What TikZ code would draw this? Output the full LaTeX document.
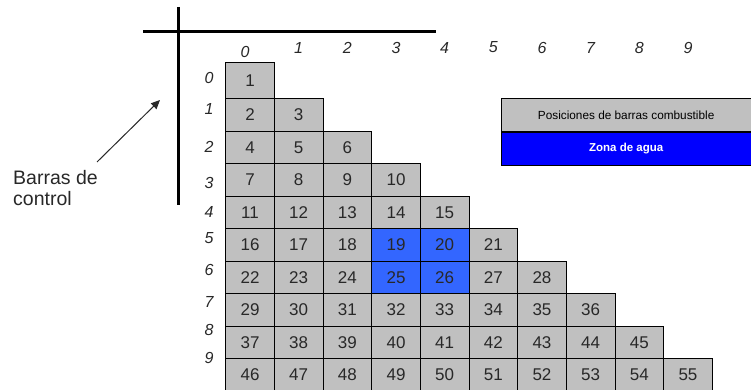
\documentclass[tikz,border=0pt]{standalone}
\usepackage{fontspec}
\setmainfont{Liberation Sans}
\usetikzlibrary{arrows.meta}
\definecolor{cellgray}{RGB}{192,192,192}
\definecolor{cellblue}{RGB}{51,102,255}
\definecolor{legblue}{RGB}{0,0,255}
\definecolor{txt}{RGB}{40,40,40}
\tikzset{
  cellbox/.style={draw=black, line width=0.8pt, inner sep=0pt, minimum width=48.66pt, text=txt, font=\fontsize{17}{19}\selectfont},
  axislab/.style={font=\fontsize{16}{18}\selectfont\itshape, text=txt, inner sep=0pt},
  axisline/.style={line width=3pt, black},
  legbox/.style={draw=black, line width=0.8pt, inner sep=0pt, minimum width=249.5pt, minimum height=32.7pt, anchor=north west},
}
\begin{document}
\begin{tikzpicture}[x=1pt,y=-1pt]
\useasboundingbox (0,0) rectangle (751,390);
% cells
\foreach \r in {0,...,9}{
  \foreach \c in {0,...,\r}{
    \pgfmathtruncatemacro\n{\r*(\r+1)/2+\c+1}
    \ifnum\r=0 \def\ytop{62}\else\pgfmathsetmacro\ytop{98.5+32.5*(\r-1)}\fi
    \ifnum\r=9 \def\ybot{391}\else\pgfmathsetmacro\ybot{98.5+32.5*\r}\fi
    \pgfmathsetmacro\h{\ybot-\ytop}
    \pgfmathsetmacro\ym{(\ybot+\ytop)/2}
    \pgfmathsetmacro\xm{225.7+48.66*\c+24.33}
    \def\fc{cellgray}
    \ifnum\r>4 \ifnum\r<7 \ifnum\c>2 \ifnum\c<5 \def\fc{cellblue}\fi\fi\fi\fi
    \node[cellbox, fill=\fc, minimum height=\h pt] (c\r-\c) at (\xm,\ym) {\raisebox{-1.5pt}{\n}};
  }
}
% axes
\coordinate (hl) at (143,31.7);
\coordinate (hr) at (436,31.7);
\coordinate (vt) at (178,7);
\coordinate (vb) at (178,205);
\draw[axisline] (hl) -- (hr);
\draw[axisline] (vt) -- (vb);
% column labels
\node[axislab] (col0) at (245,52) {0};
\foreach \c in {1,...,9}{
  \pgfmathsetmacro\xm{225.7+48.66*\c+24.33}
  \node[axislab] (col\c) at (\xm,47.5) {\c};
}
% row labels
\foreach \r/\y in {0/78,1/109,2/147,3/183,4/212,5/238,6/270,7/302,8/330,9/358}{
  \node[axislab] (row\r) at (209,\y) {\r};
}
% Barras de control
\node[anchor=north west, align=left, inner sep=0pt, text=txt, font=\fontsize{19.5}{21}\selectfont] (barras) at (13,170) {Barras de\\control};
\coordinate (arrs) at (97,162);
\coordinate (arre) at (160,100);
\draw[line width=1pt, draw=txt, -{Triangle[length=9pt,width=8pt]}] (arrs) -- (arre);
% legend
\node[legbox, fill=cellgray, font=\fontsize{11.8}{13}\selectfont, text=black] (leg1) at (501,98.3) {Posiciones de barras combustible};
\node[legbox, fill=legblue, font=\fontsize{11.5}{13}\selectfont\bfseries, text=white] (leg2) at (leg1.south west) {Zona de agua};
\end{tikzpicture}
\end{document}
